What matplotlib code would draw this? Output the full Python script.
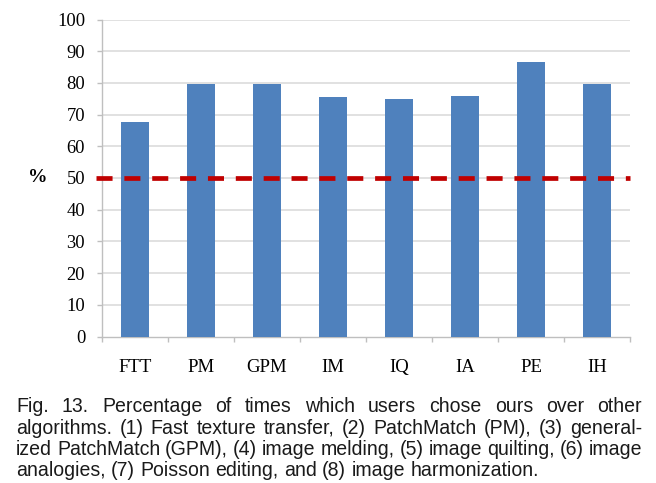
import matplotlib
matplotlib.use("Agg")
import matplotlib.pyplot as plt
import numpy as np

# values
methods = ['FTT', 'PM', 'GPM', 'IM', 'IQ', 'IA', 'PE', 'IH']
percent = [67.8, 79.6, 79.8, 75.5, 74.8, 75.8, 86.6, 79.5]
chance = 50
yticks = [0, 10, 20, 30, 40, 50, 60, 70, 80, 90, 100]

caption = [
    "Fig. 13. Percentage of times which users chose ours over other",
    "algorithms. (1) Fast texture transfer, (2) PatchMatch (PM), (3) general-",
    "ized PatchMatch (GPM), (4) image melding, (5) image quilting, (6) image",
    "analogies, (7) Poisson editing, and (8) image harmonization.",
]

W, H = 656, 483
fig = plt.figure(figsize=(W / 100, H / 100), dpi=100)
ax = fig.add_axes([102 / W, 1 - 336.5 / H, 528 / W, 317 / H])

x = np.arange(len(methods))
ax.bar(x, percent, width=0.41, color='#4f81bd', zorder=3)

# dashed 50% line, runs a little past the left axis
ax.plot([-0.59, len(methods) - 0.5], [chance, chance], color='#c00000',
        lw=3.4, dashes=(3.4, 2.5), solid_capstyle='butt', dash_capstyle='butt',
        clip_on=False, zorder=4)

ax.set_xlim(-0.5, len(methods) - 0.5)
ax.set_ylim(0, 100)
ax.set_yticks(yticks)
ax.set_yticklabels([str(v) for v in yticks], family='Liberation Serif', fontsize=13.3)
ax.set_xticks(x)
ax.set_xticklabels(methods, family='Liberation Serif', fontsize=13.5)
ax.set_xticks(np.arange(len(methods) + 1) - 0.5, minor=True)

ax.tick_params(axis='x', which='major', length=0, pad=16)
ax.tick_params(axis='x', which='minor', length=3.6, color='#bfbfbf', width=1)
ax.tick_params(axis='y', length=3.6, color='#bfbfbf', width=1, pad=8.5)

for y in yticks[1:]:
    ax.axhline(y, color='#d9d9d9', lw=1.1, zorder=1)

for s in ['top', 'right']:
    ax.spines[s].set_visible(False)
for s in ['left', 'bottom']:
    ax.spines[s].set_color('#bfbfbf')
    ax.spines[s].set_linewidth(1)
    ax.spines[s].set_zorder(2)

fig.text(38 / W, 1 - 178 / H, '%', family='Liberation Serif', weight='bold',
         fontsize=14, ha='center', va='center')

# caption, first three lines justified between left and right edges
left, right = 16, 642
last_end = 537
baselines = [411.5, 433.5, 455, 476]
r = fig.canvas.get_renderer()

def text_width(s, fs):
    t = fig.text(0, 0, s, family='Liberation Sans', fontsize=fs)
    wd = t.get_window_extent(renderer=r).width
    t.remove()
    return wd

# pick the size so the last (unjustified) line ends where it does in the figure
fs = 12.6 * (last_end - left) / text_width(caption[-1], 12.6)

for i, line in enumerate(caption):
    words = line.split(' ')
    widths = [text_width(w, fs) for w in words]
    if i < len(caption) - 1:
        gap = (right - left - sum(widths)) / (len(words) - 1)
    else:
        gap = text_width('a b', fs) - text_width('a', fs) - text_width('b', fs)
    xpos = left
    for w, wd in zip(words, widths):
        fig.text(xpos / W, 1 - baselines[i] / H, w, family='Liberation Sans',
                 fontsize=fs, ha='left', va='baseline', color='#1a1a1a')
        xpos += wd + gap

fig.savefig('out.png', dpi=100)
